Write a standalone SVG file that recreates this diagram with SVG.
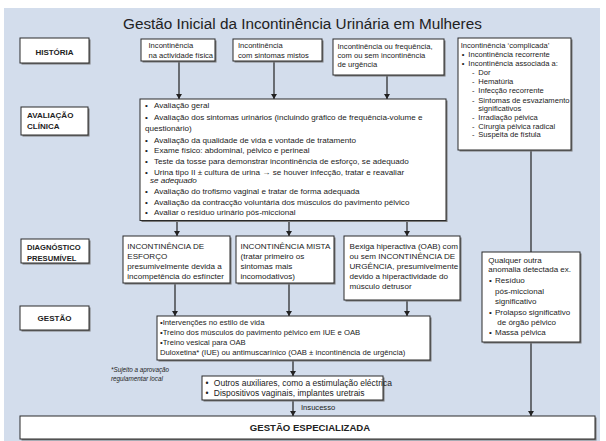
<svg xmlns="http://www.w3.org/2000/svg" width="606" height="441" viewBox="0 0 606 441">
<style>
.bg{fill:#d3ddec}
.box{fill:#fff;stroke:#2a2a2a;stroke-width:1}
.sh{fill:#7a7a7a}
text{font-family:"Liberation Sans",Arial,Helvetica,sans-serif;fill:#222}
.t{font-size:7.6px}
.a{font-size:8.1px}
.s{font-size:7.6px}
.q{font-size:8px}
.g{font-size:7.7px}
.o{font-size:8.5px}
.d{font-size:8.1px}
.lb{font-size:8px;font-weight:bold}
.lb2{font-size:7.6px;font-weight:bold}
.ti{font-size:15.3px}
.fn{font-size:6.3px;font-style:italic}
.it{font-style:italic}
.ge{font-size:9.6px;font-weight:bold}
.ln{stroke:#222;stroke-width:1.2;fill:none}
</style>
<defs>
<marker id="ah" markerUnits="userSpaceOnUse" markerWidth="6" markerHeight="6" refX="5" refY="3" orient="auto"><path d="M0,0 L5,3 L0,6 z" fill="#222"/></marker>
</defs>
<rect class="bg" x="4" y="8" width="596" height="433"/>
<text class="ti" x="123" y="29">Gestão Inicial da Incontinência Urinária em Mulheres</text>

<g id="connectors">
<line class="ln" x1="179" y1="61" x2="179" y2="99" marker-end="url(#ah)"/>
<line class="ln" x1="274" y1="61" x2="274" y2="99" marker-end="url(#ah)"/>
<line class="ln" x1="387" y1="75" x2="387" y2="99" marker-end="url(#ah)"/>
<line class="ln" x1="177" y1="221" x2="177" y2="236" marker-end="url(#ah)"/>
<line class="ln" x1="289" y1="221" x2="289" y2="236" marker-end="url(#ah)"/>
<line class="ln" x1="407" y1="221" x2="407" y2="236" marker-end="url(#ah)"/>
<line class="ln" x1="175" y1="283" x2="175" y2="316" marker-end="url(#ah)"/>
<line class="ln" x1="289" y1="283" x2="289" y2="316" marker-end="url(#ah)"/>
<line class="ln" x1="407" y1="300" x2="407" y2="316" marker-end="url(#ah)"/>
<line class="ln" x1="293" y1="360" x2="293" y2="376" marker-end="url(#ah)"/>
<line class="ln" x1="293" y1="400" x2="293" y2="416" marker-end="url(#ah)"/>
<line class="ln" x1="531" y1="150" x2="531" y2="252"/>
<line class="ln" x1="531" y1="342" x2="531" y2="416" marker-end="url(#ah)"/>
<text class="t" x="301" y="410">Insucesso</text>
</g>

<g id="lbl-historia">
<rect class="sh" x="21.5" y="39.5" width="69" height="25"/>
<rect class="box" x="20" y="38" width="69" height="25"/>
<text class="lb" x="54.5" y="55" text-anchor="middle">HISTÓRIA</text>
</g>
<g id="lbl-avaliacao">
<rect class="sh" x="22.5" y="108.5" width="67" height="28"/>
<rect class="box" x="21" y="107" width="67" height="28"/>
<text class="lb" x="27" y="118">AVALIAÇÃO</text>
<text class="lb" x="27" y="129">CLÍNICA</text>
</g>
<g id="lbl-diagnostico">
<rect class="sh" x="22.5" y="240.5" width="68" height="24"/>
<rect class="box" x="21" y="239" width="68" height="24"/>
<text class="lb2" x="27" y="250">DIAGNÓSTICO</text>
<text class="lb2" x="27" y="261">PRESUMÍVEL</text>
</g>
<g id="lbl-gestao">
<rect class="sh" x="21.5" y="307.5" width="69" height="24"/>
<rect class="box" x="20" y="306" width="69" height="24"/>
<text class="lb" x="54.5" y="321" text-anchor="middle">GESTÃO</text>
</g>

<g id="h-esforco">
<rect class="sh" x="142.5" y="40.5" width="74" height="22"/>
<rect class="box" x="141" y="39" width="74" height="22"/>
<text class="t" x="148.5" y="48">Incontinência</text>
<text class="t" x="148.5" y="57.5">na actividade física</text>
</g>
<g id="h-misto">
<rect class="sh" x="234.5" y="40.5" width="89" height="22"/>
<rect class="box" x="233" y="39" width="89" height="22"/>
<text class="t" x="238" y="48">Incontinência</text>
<text class="t" x="238" y="57.5">com sintomas mistos</text>
</g>
<g id="h-urgencia">
<rect class="sh" x="334.5" y="40.5" width="111" height="36"/>
<rect class="box" x="333" y="39" width="111" height="36"/>
<text class="t" x="337.5" y="48.5">Incontinência ou frequência,</text>
<text class="t" x="337.5" y="57.8">com ou sem incontinência</text>
<text class="t" x="337.5" y="67.1">de urgência</text>
</g>
<g id="h-complicada">
<rect class="sh" x="459.5" y="39.5" width="113" height="112"/>
<rect class="box" x="458" y="38" width="113" height="112"/>
<text class="s" x="460.7" y="48">Incontinência ‘complicada’</text>
<text class="s" x="461.7" y="57">•</text><text class="s" x="468.3" y="57">Incontinência recorrente</text>
<text class="s" x="461.7" y="66">•</text><text class="s" x="468.3" y="66">Incontinência associada a:</text>
<text class="s" x="472" y="75">-</text><text class="s" x="478.3" y="75">Dor</text>
<text class="s" x="472" y="84">-</text><text class="s" x="478.3" y="84">Hematúria</text>
<text class="s" x="472" y="93">-</text><text class="s" x="478.3" y="93">Infecção recorrente</text>
<text class="s" x="472" y="102.5">-</text><text class="s" x="478.3" y="102.5">Sintomas de esvaziamento</text>
<text class="s" x="478.3" y="111.3">significativos</text>
<text class="s" x="472" y="120">-</text><text class="s" x="478.3" y="120">Irradiação pélvica</text>
<text class="s" x="472" y="128.5">-</text><text class="s" x="478.3" y="128.5">Cirurgia pélvica radical</text>
<text class="s" x="472" y="137">-</text><text class="s" x="478.3" y="137">Suspeita de fístula</text>
</g>

<g id="avaliacao">
<rect class="sh" x="141.5" y="100.5" width="306" height="121.5"/>
<rect class="box" x="140" y="99" width="306" height="121.5"/>
<text class="a" x="145" y="108.2">•</text><text class="a" x="154" y="108.2">Avaliação geral</text>
<text class="a" x="145" y="120.2">•</text><text class="a" x="154" y="120.2">Avaliação dos sintomas urinários (incluindo gráfico de frequência-volume e</text>
<text class="a" x="145" y="130.8">questionário)</text>
<text class="a" x="145" y="142.5">•</text><text class="a" x="154" y="142.5">Avaliação da qualidade de vida e vontade de tratamento</text>
<text class="a" x="145" y="153.2">•</text><text class="a" x="154" y="153.2">Exame físico: abdominal, pélvico e perineal</text>
<text class="a" x="145" y="163.8">•</text><text class="a" x="154" y="163.8">Teste da tosse para demonstrar incontinência de esforço, se adequado</text>
<text class="a" x="145" y="174.5">•</text><text class="a" x="154" y="174.5">Urina tipo II ± cultura de urina → se houver infecção, tratar e reavaliar</text>
<text class="a it" x="150" y="183.2">se adequado</text>
<text class="a" x="145" y="194.2">•</text><text class="a" x="154" y="194.2">Avaliação do trofismo vaginal e tratar de forma adequada</text>
<text class="a" x="145" y="204.8">•</text><text class="a" x="154" y="204.8">Avaliação da contracção voluntária dos músculos do pavimento pélvico</text>
<text class="a" x="145" y="215.2">•</text><text class="a" x="154" y="215.2">Avaliar o resíduo urinário pós-miccional</text>
</g>

<g id="d-esforco">
<rect class="sh" x="124.5" y="237.5" width="107" height="47"/>
<rect class="box" x="123" y="236" width="107" height="47"/>
<text class="d" x="127.3" y="248.5">INCONTINÊNCIA DE</text>
<text class="d" x="127.3" y="258.8">ESFORÇO</text>
<text class="d" x="127.3" y="269">presumivelmente devida a</text>
<text class="d" x="127.3" y="279.2">incompetência do esfíncter</text>
</g>
<g id="d-mista">
<rect class="sh" x="237.5" y="237.5" width="98" height="47"/>
<rect class="box" x="236" y="236" width="98" height="47"/>
<text class="d" x="240.5" y="248.5">INCONTINÊNCIA MISTA</text>
<text class="d" x="240.5" y="258.8">(tratar primeiro os</text>
<text class="d" x="240.5" y="269">sintomas mais</text>
<text class="d" x="240.5" y="279.2">incomodativos)</text>
</g>
<g id="d-urgencia">
<rect class="sh" x="345.5" y="237.5" width="116" height="64"/>
<rect class="box" x="344" y="236" width="116" height="64"/>
<text class="d" x="349.5" y="248.5">Bexiga hiperactiva (OAB) com</text>
<text class="d" x="349.5" y="258.8">ou sem INCONTINÊNCIA DE</text>
<text class="d" x="349.5" y="269">URGÊNCIA, presumivelmente</text>
<text class="d" x="349.5" y="279.2">devido a hiperactividade do</text>
<text class="d" x="349.5" y="289.4">músculo detrusor</text>
</g>

<g id="qualquer">
<rect class="sh" x="483.5" y="253.5" width="98" height="90"/>
<rect class="box" x="482" y="252" width="98" height="90"/>
<text class="q" x="488.3" y="262.5">Qualquer outra</text>
<text class="q" x="488.3" y="271.8">anomalia detectada ex.</text>
<text class="q" x="489" y="282.5">•</text><text class="q" x="495" y="282.5">Resíduo</text>
<text class="q" x="495" y="293.5">pós-miccional</text>
<text class="q" x="495" y="303.5">significativo</text>
<text class="q" x="489" y="315.2">•</text><text class="q" x="495" y="315.2">Prolapso significativo</text>
<text class="q" x="497.3" y="325.2">de órgão pélvico</text>
<text class="q" x="489" y="334.8">•</text><text class="q" x="495" y="334.8">Massa pélvica</text>
</g>

<g id="gestao">
<rect class="sh" x="158.5" y="317.5" width="273" height="44"/>
<rect class="box" x="157" y="316" width="273" height="44"/>
<text class="g" x="160" y="324.5">•Intervenções no estilo de vida</text>
<text class="g" x="160" y="334.5">•Treino dos músculos do pavimento pélvico em IUE e OAB</text>
<text class="g" x="160" y="344.5">•Treino vesical para OAB</text>
<text class="g" x="160" y="354.5">Duloxetina* (IUE) ou antimuscarínico (OAB ± incontinência de urgência)</text>
</g>

<g id="nota">
<text class="fn" x="111" y="372">*Sujeito a aprovação</text>
<text class="fn" x="111" y="381">regulamentar local</text>
</g>

<g id="outros">
<rect class="sh" x="203.5" y="377.5" width="181" height="24"/>
<rect class="box" x="202" y="376" width="181" height="24"/>
<text class="o" x="205.6" y="385.8">•</text><text class="o" x="213.8" y="385.8">Outros auxiliares, como a estimulação eléctrica</text>
<text class="o" x="205.6" y="396">•</text><text class="o" x="213.8" y="396">Dispositivos vaginais, implantes uretrais</text>
</g>

<g id="especializada">
<rect class="sh" x="21.5" y="417.5" width="575" height="23"/>
<rect class="box" x="20" y="416" width="575" height="23"/>
<text class="ge" x="310" y="431.3" text-anchor="middle">GESTÃO ESPECIALIZADA</text>
</g>
</svg>
